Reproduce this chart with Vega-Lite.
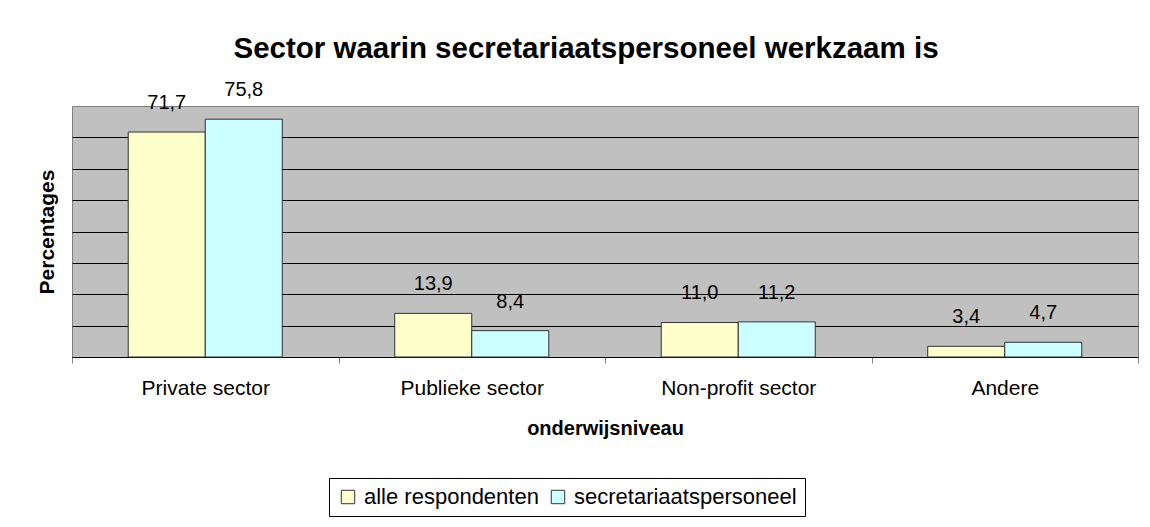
{
  "$schema": "https://vega.github.io/schema/vega-lite/v6.json",
  "width": 1066,
  "height": 251,
  "autosize": {"type": "none"},
  "padding": {"left": 72, "top": 106, "right": 12, "bottom": 170},
  "background": "white",
  "title": {
    "text": "Sector waarin secretariaatspersoneel werkzaam is",
    "font": "Liberation Sans",
    "fontSize": 29.5,
    "fontWeight": "bold",
    "color": "black",
    "anchor": "middle",
    "dx": -19,
    "offset": 16
  },
  "data": {
    "values": [
      {"sector": "Private sector", "groep": "alle respondenten", "pct": 71.7},
      {"sector": "Private sector", "groep": "secretariaatspersoneel", "pct": 75.8},
      {"sector": "Publieke sector", "groep": "alle respondenten", "pct": 13.9},
      {"sector": "Publieke sector", "groep": "secretariaatspersoneel", "pct": 8.4},
      {"sector": "Non-profit sector", "groep": "alle respondenten", "pct": 11.0},
      {"sector": "Non-profit sector", "groep": "secretariaatspersoneel", "pct": 11.2},
      {"sector": "Andere", "groep": "alle respondenten", "pct": 3.4},
      {"sector": "Andere", "groep": "secretariaatspersoneel", "pct": 4.7}
    ]
  },
  "encoding": {
    "x": {
      "field": "sector",
      "type": "nominal",
      "sort": ["Private sector", "Publieke sector", "Non-profit sector", "Andere"],
      "scale": {"paddingInner": 0, "paddingOuter": 0},
      "axis": {
        "title": "onderwijsniveau",
        "titleFont": "Liberation Sans",
        "titleFontSize": 20,
        "titleFontWeight": "bold",
        "titleColor": "black",
        "titlePadding": 20,
        "labelAngle": 0,
        "labelFont": "Liberation Sans",
        "labelFontSize": 21,
        "labelColor": "black",
        "labelPadding": 14,
        "tickBand": "extent",
        "tickSize": 6,
        "tickColor": "#808080",
        "domainColor": "black",
        "grid": false
      }
    },
    "xOffset": {
      "field": "groep",
      "type": "nominal",
      "scale": {"paddingInner": 0, "paddingOuter": 0.73}
    },
    "y": {
      "field": "pct",
      "type": "quantitative",
      "scale": {"domain": [0, 80], "nice": false},
      "axis": {
        "title": "Percentages",
        "titleFont": "Liberation Sans",
        "titleFontSize": 21,
        "titleFontWeight": "bold",
        "titleColor": "black",
        "titlePadding": 15,
        "values": [10, 20, 30, 40, 50, 60, 70],
        "labels": false,
        "ticks": false,
        "domain": false,
        "grid": true,
        "gridColor": "black",
        "gridOpacity": 1,
        "gridWidth": 1
      }
    }
  },
  "layer": [
    {
      "mark": {"type": "bar", "stroke": "#333333", "strokeWidth": 1},
      "encoding": {
        "color": {
          "field": "groep",
          "type": "nominal",
          "scale": {"domain": ["alle respondenten", "secretariaatspersoneel"], "range": ["#FFFFCC", "#CCFFFF"]},
          "legend": {
            "title": null,
            "orient": "none",
            "legendX": 257,
            "legendY": 372,
            "direction": "horizontal",
            "labelFont": "Liberation Sans",
            "labelFontSize": 22,
            "labelColor": "black",
            "labelLimit": 500,
            "symbolType": "square",
            "symbolSize": 180,
            "symbolStrokeColor": "#333333",
            "symbolStrokeWidth": 1,
            "symbolOpacity": 1,
            "labelOffset": 5,
            "columnPadding": 8,
            "padding": 8,
            "strokeColor": "black",
            "fillColor": "white"
          }
        }
      }
    },
    {
      "mark": {"type": "text", "baseline": "middle", "dy": -29, "font": "Liberation Sans", "fontSize": 20, "color": "black"},
      "encoding": {
        "text": {"field": "pct", "type": "quantitative", "format": ".1f"}
      }
    }
  ],
  "config": {
    "locale": {"number": {"decimal": ",", "thousands": ".", "grouping": [3], "currency": ["€", ""]}},
    "view": {"fill": "#C0C0C0", "stroke": "#808080"}
  }
}
